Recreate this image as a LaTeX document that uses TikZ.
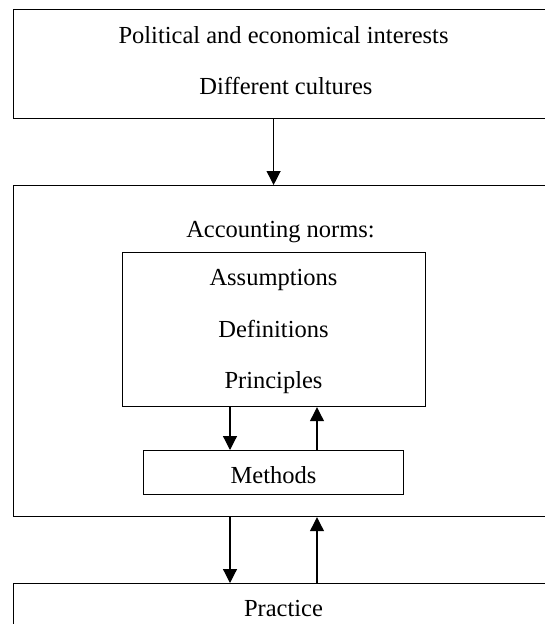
\documentclass[tikz,border=0pt]{standalone}
\usepackage{fontspec}
\setmainfont{Liberation Serif}
\usetikzlibrary{arrows.meta}
\tikzset{
  frame/.style={draw,line width=1.2pt,inner sep=0pt,anchor=north west},
  txt/.style={inner sep=0pt,anchor=base,font=\fontsize{24.5}{28}\selectfont},
  link/.style={line width=1.2pt,-{Triangle[width=14pt,length=14pt]}}
}
\begin{document}
\begin{tikzpicture}[x=1pt,y=-1pt]
  \clip (0,0) rectangle (545,624);
  %% outer boxes
  \node[frame,minimum width=560pt,minimum height=109pt] (interests) at (13,9) {};
  \node[frame,minimum width=560pt,minimum height=331pt] (norms) at (13,185) {};
  \node[frame,minimum width=560pt,minimum height=80pt] (practice) at (13,583) {};
  %% inner boxes
  \node[frame,minimum width=303pt,minimum height=154pt] (rules) at (122,252) {};
  \node[frame,minimum width=260pt,minimum height=44pt] (methods) at (143,450) {};
  % texts
  \node[txt] (political) at (283.5,43) {Political and economical interests};
  \node[txt] (cultures) at (286,94) {Different cultures};
  \node[txt] (heading) at (280.5,237) {Accounting norms:};
  \node[txt] (assumptions) at (273.5,285) {Assumptions};
  \node[txt] (definitions) at (273.5,337) {Definitions};
  \node[txt] (principles) at (273.5,388) {Principles};
  \node[txt] (methodstext) at (273.5,483) {Methods};
  \node[txt] (practicetext) at (283.5,616) {Practice};
  % arrows
  \coordinate (down) at (230,0);
  \coordinate (up) at (317,0);
  \draw[link] (interests.south -| methods.north) -- (norms.north -| methods.north);
  \draw[link] (rules.south -| down) -- (methods.north -| down);
  \draw[link] (methods.north -| up) -- (rules.south -| up);
  \draw[link] (norms.south -| down) -- (practice.north -| down);
  \draw[link] (practice.north -| up) -- (norms.south -| up);
\end{tikzpicture}
\end{document}
